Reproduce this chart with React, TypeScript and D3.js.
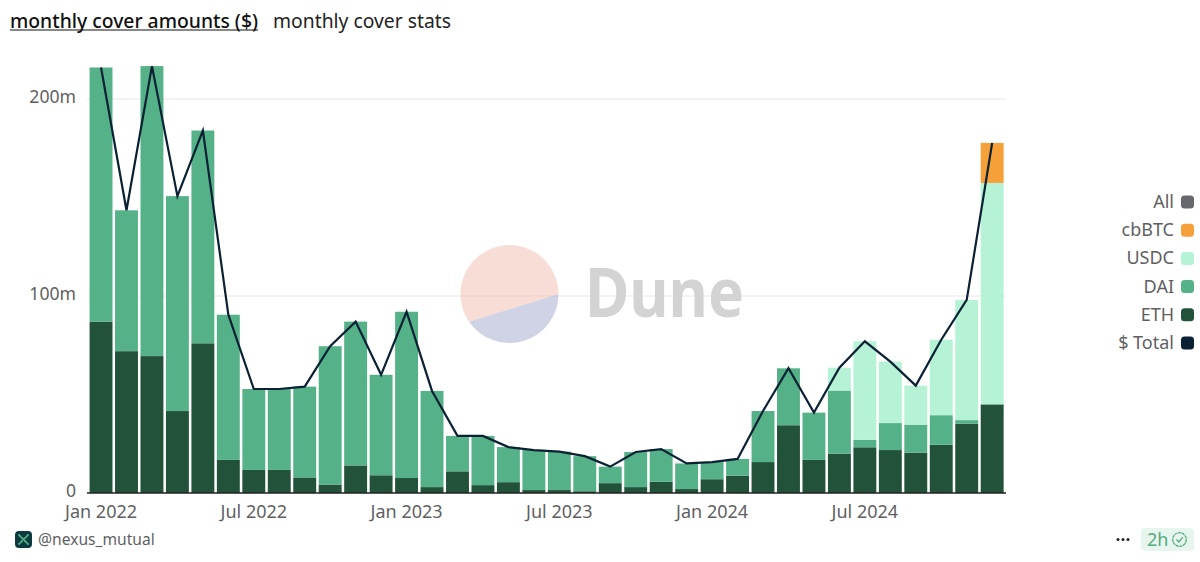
import React from "react";
import * as d3 from "d3";

const months = [
  "Jan 2022", "Feb 2022", "Mar 2022", "Apr 2022", "May 2022", "Jun 2022",
  "Jul 2022", "Aug 2022", "Sep 2022", "Oct 2022", "Nov 2022", "Dec 2022",
  "Jan 2023", "Feb 2023", "Mar 2023", "Apr 2023", "May 2023", "Jun 2023",
  "Jul 2023", "Aug 2023", "Sep 2023", "Oct 2023", "Nov 2023", "Dec 2023",
  "Jan 2024", "Feb 2024", "Mar 2024", "Apr 2024", "May 2024", "Jun 2024",
  "Jul 2024", "Aug 2024", "Sep 2024", "Oct 2024", "Nov 2024", "Dec 2024",
];
const eth = [
  87, 72, 69.5, 41.6, 76, 16.8, 11.7, 11.7, 7.9, 4.3, 14, 9, 7.6, 3, 11, 4, 5.5, 1.5,
  1.5, 0.9, 5, 3, 5.7, 2, 7, 8.8, 15.7, 34.4, 16.8, 20, 23.2, 21.8, 20.5, 24.5, 35.2, 45,
];
const dai = [
  129, 71.5, 147.2, 109.1, 108, 73.7, 41.1, 41.1, 46.1, 70.2, 73, 51, 84.4, 48.8, 18, 25, 17.8, 20.3,
  19.5, 17.8, 8.4, 17.8, 16.6, 13, 8.7, 8.5, 25.9, 28.9, 24, 32, 3.8, 13.7, 14.2, 15, 1.8, 0,
];
const usdc = [
  0, 0, 0, 0, 0, 0, 0, 0, 0, 0, 0, 0, 0, 0, 0, 0, 0, 0,
  0, 0, 0, 0, 0, 0, 0, 0, 0, 0, 0, 11.6, 50, 31.2, 19.8, 38.3, 61, 112.4,
];
const cbbtc = [
  0, 0, 0, 0, 0, 0, 0, 0, 0, 0, 0, 0, 0, 0, 0, 0, 0, 0,
  0, 0, 0, 0, 0, 0, 0, 0, 0, 0, 0, 0, 0, 0, 0, 0, 0, 20.3,
];
const total = [
  216, 143.5, 216.7, 150.7, 184, 90.5, 52.8, 52.8, 54, 74.5, 87, 60, 92, 51.8, 29, 29, 23.3, 21.8,
  21, 18.7, 13.4, 20.8, 22.3, 15, 15.7, 17.3, 41.6, 63.3, 40.8, 63.6, 77, 66.7, 54.5, 77.8, 98, 177.7,
];
const yTicks = [0, 100, 200];
const xTickLabels = ["Jan 2022", "Jul 2022", "Jan 2023", "Jul 2023", "Jan 2024", "Jul 2024"];
const seriesKeys = ["ETH", "DAI", "USDC", "cbBTC"];
const legendItems = ["All", "cbBTC", "USDC", "DAI", "ETH", "$ Total"];

const colors: Record<string, string> = {
  All: "#66686c",
  cbBTC: "#f5a038",
  USDC: "#b5f2d6",
  DAI: "#55b288",
  ETH: "#23523b",
  "$ Total": "#0a2033",
};

const FONT = "'Noto Sans', sans-serif";
const GREY = "#5f5f63";

const rows = months.map((m, i) => ({
  month: m,
  ETH: eth[i],
  DAI: dai[i],
  USDC: usdc[i],
  cbBTC: cbbtc[i],
}));

const x = d3.scaleBand<string>().domain(months).range([88.3, 1004.9]).paddingInner(0.1).paddingOuter(0.05);
const y = d3.scaleLinear().domain([0, 200]).range([493, 99]);
const stacked = d3.stack<any>().keys(seriesKeys)(rows);
const totalLine = d3
  .line<number>()
  .x((_, i) => x(months[i])! + x.bandwidth() / 2)
  .y((d) => y(d));
const legendY = d3.scalePoint<string>().domain(legendItems).range([202, 343]);

export default function App() {
  const cx = (m: string) => x(m)! + x.bandwidth() / 2;
  return (
    <svg
      width={1200}
      height={562}
      style={{ position: "absolute", left: 0, top: 0, background: "#fff" }}
      fontFamily={FONT}
    >
      <text x={10} y={27.5} fontSize={19.5} fontWeight={500} fill="#111" textLength={248} lengthAdjust="spacingAndGlyphs">
        monthly cover amounts ($)
      </text>
      <line x1={10} x2={258} y1={30} y2={30} stroke="#111" strokeWidth={1} />
      <text x={273} y={27.5} fontSize={19} fill="#222" textLength={178} lengthAdjust="spacingAndGlyphs">
        monthly cover stats
      </text>

      {yTicks.filter((t) => t > 0).map((t) => (
        <line key={t} x1={87} x2={1006} y1={y(t)} y2={y(t)} stroke="#e6e6e6" strokeWidth={1} />
      ))}

      {/* watermark */}
      <g>
        <path d="M469.1 321.8 A49 49 0 1 1 558.5 294 Z" fill="#f3c1b4" opacity={0.55} />
        <path d="M469.1 321.8 L558.5 294 A49 49 0 0 1 469.1 321.8 Z" fill="#a9add0" opacity={0.55} />
        <text x={585} y={317} fontSize={68} fontWeight={700} fill="#d3d3d3" textLength={159} lengthAdjust="spacingAndGlyphs">
          Dune
        </text>
      </g>

      {stacked.map((s) => (
        <g key={s.key} fill={colors[s.key]}>
          {s.map((d, i) =>
            d[1] - d[0] > 0 ? (
              <rect
                key={months[i]}
                x={x(months[i])}
                y={y(d[1])}
                width={x.bandwidth()}
                height={y(d[0]) - y(d[1])}
              />
            ) : null
          )}
        </g>
      ))}

      <line x1={87} x2={1006} y1={y(0)} y2={y(0)} stroke="#222" strokeWidth={1.5} />

      <path d={totalLine(total)!} fill="none" stroke={colors["$ Total"]} strokeWidth={2.2} strokeLinejoin="miter" />

      {yTicks.map((t) => (
        <text key={t} x={76} y={y(t) + 4} textAnchor="end" fontSize={17.6} fill={GREY}>
          {t === 0 ? "0" : `${t}m`}
        </text>
      ))}
      {xTickLabels.map((m) => (
        <text key={m} x={cx(m)} y={518} textAnchor="middle" fontSize={18} fill={GREY}>
          {m}
        </text>
      ))}

      {legendItems.map((name) => (
        <g key={name}>
          <text x={1174} y={legendY(name)! + 6} textAnchor="end" fontSize={18} fill={GREY}>
            {name}
          </text>
          <rect x={1181} y={legendY(name)! - 6.5} width={13} height={13} rx={3.5} fill={colors[name]} />
        </g>
      ))}

      {/* footer */}
      <rect x={15} y={531} width={17} height={17} rx={4} fill="#0c3a3f" />
      <g stroke="#55b288" strokeWidth={1.8} strokeLinecap="round" strokeDasharray="2.5 1.6">
        <path d="M19 535 L28 544 M28 535 L19 544" />
      </g>
      <text x={38} y={545} fontSize={15.6} fill={GREY}>
        @nexus_mutual
      </text>
      {[1118, 1123, 1128].map((d) => (
        <circle key={d} cx={d} cy={539.5} r={1.5} fill="#222" />
      ))}
      <rect x={1141} y={528} width={53} height={23} rx={4} fill="#e6f6ee" />
      <text x={1147} y={546} fontSize={18} fill="#5aa87f">
        2h
      </text>
      <circle cx={1179.5} cy={539.5} r={6.8} fill="none" stroke="#5aa87f" strokeWidth={1.3} strokeDasharray="3.2 0.6" />
      <path d="M1176.5 539.5 L1178.8 542 L1182.8 537.2" fill="none" stroke="#5aa87f" strokeWidth={1.3} />
    </svg>
  );
}
